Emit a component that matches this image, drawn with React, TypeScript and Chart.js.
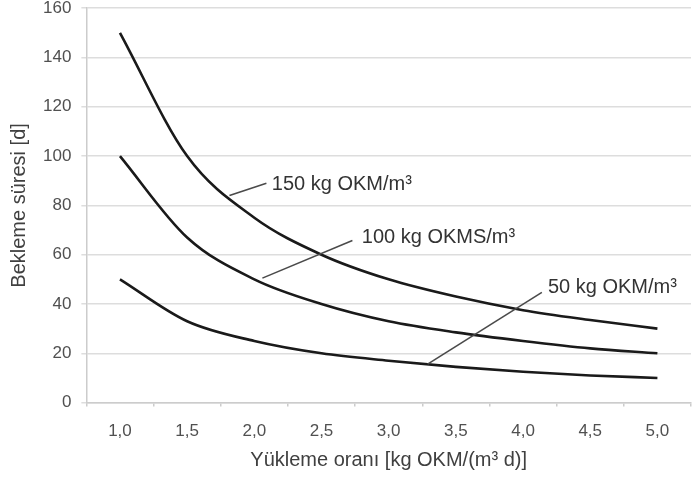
import React, { useEffect, useRef } from "react";
import { Chart, registerables } from "chart.js";

Chart.register(...registerables);

const categories = ["1,0", "1,5", "2,0", "2,5", "3,0", "3,5", "4,0", "4,5", "5,0"];
const series150 = [150, 100, 75, 60, 50, 43, 37.5, 33.5, 30];
const series100 = [100, 67, 50, 40, 33, 28.5, 25, 22, 20];
const series50 = [50, 33, 25, 20, 17, 14.5, 12.5, 11, 10];
const seriesNames = ["150 kg OKM/m³", "100 kg OKMS/m³", "50 kg OKM/m³"];

// annotation anchors in data units: [lineStartIdx, lineStartVal, lineEndIdx, lineEndVal, textIdx, textVal]
const callout150 = [1.63, 84, 2.18, 89, 2.26, 88.5];
const callout100 = [2.12, 50.5, 3.46, 65.8, 3.6, 67];
const callout50 = [4.58, 15.6, 6.28, 44.7, 6.37, 46.7];

const FONT = "'Liberation Sans', Arial, Helvetica, sans-serif";
const CANVAS_H = 490;
const SHIFT_UP = 12;

const calloutPlugin = {
  id: "callouts",
  afterDatasetsDraw(chart: any) {
    const { ctx, scales } = chart;
    const xs = scales.x;
    const ys = scales.y;
    const items = [callout150, callout100, callout50];
    ctx.save();
    items.forEach((c, i) => {
      ctx.strokeStyle = "#4a4a4a";
      ctx.lineWidth = 1.6;
      ctx.beginPath();
      ctx.moveTo(xs.getPixelForValue(c[0]), ys.getPixelForValue(c[1]));
      ctx.lineTo(xs.getPixelForValue(c[2]), ys.getPixelForValue(c[3]));
      ctx.stroke();
      ctx.fillStyle = "#333333";
      ctx.font = `20px ${FONT}`;
      ctx.textAlign = "left";
      ctx.textBaseline = "middle";
      ctx.fillText(seriesNames[i], xs.getPixelForValue(c[4]), ys.getPixelForValue(c[5]));
    });
    ctx.restore();
  },
};

export default function App() {
  const ref = useRef<HTMLCanvasElement | null>(null);
  useEffect(() => {
    if (!ref.current) return;
    const lineStyle = {
      borderColor: "#1a1a1a",
      borderWidth: 2.6,
      pointRadius: 0,
      fill: false,
      cubicInterpolationMode: "monotone" as const,
    };
    const chart = new Chart(ref.current, {
      type: "line",
      data: {
        labels: categories,
        datasets: [
          { label: seriesNames[0], data: series150, ...lineStyle },
          { label: seriesNames[1], data: series100, ...lineStyle },
          { label: seriesNames[2], data: series50, ...lineStyle },
        ],
      },
      options: {
        animation: false,
        responsive: false,
        maintainAspectRatio: false,
        layout: { padding: { left: 7, right: 1, top: 0, bottom: 6 } },
        plugins: {
          legend: { display: false },
          tooltip: { enabled: false },
        },
        scales: {
          x: {
            type: "category",
            offset: true,
            grid: {
              offset: true,
              drawOnChartArea: false,
              drawTicks: true,
              tickLength: 4,
              color: "#cccccc",
              lineWidth: 1.5,
            },
            border: { color: "#cccccc", width: 1.5 },
            ticks: {
              color: "#505050",
              font: { family: FONT, size: 17 },
              padding: 15,
              maxRotation: 0,
            },
            title: {
              display: true,
              text: "Yükleme oranı [kg OKM/(m³ d)]",
              color: "#404040",
              font: { family: FONT, size: 20 },
              padding: { top: -9, bottom: 0 },
            },
          },
          y: {
            min: 0,
            max: 160,
            ticks: {
              stepSize: 20,
              color: "#505050",
              font: { family: FONT, size: 17 },
              padding: 10,
            },
            grid: {
              color: "#dddddd",
              lineWidth: 1.5,
              drawTicks: true,
              tickLength: 5,
            },
            border: { color: "#cccccc", width: 1.5 },
            title: {
              display: true,
              text: "Bekleme süresi [d]",
              color: "#404040",
              font: { family: FONT, size: 20 },
              padding: { top: 0, bottom: 2 },
            },
          },
        },
      },
      plugins: [calloutPlugin],
    });
    return () => chart.destroy();
  }, []);
  return (
    <div
      style={{
        position: "absolute",
        left: 0,
        top: 0,
        width: 692,
        height: 478,
        overflow: "hidden",
        background: "#fff",
      }}
    >
      <canvas
        ref={ref}
        width={692}
        height={CANVAS_H}
        style={{ width: 692, height: CANVAS_H, display: "block", marginTop: -SHIFT_UP }}
      />
    </div>
  );
}
